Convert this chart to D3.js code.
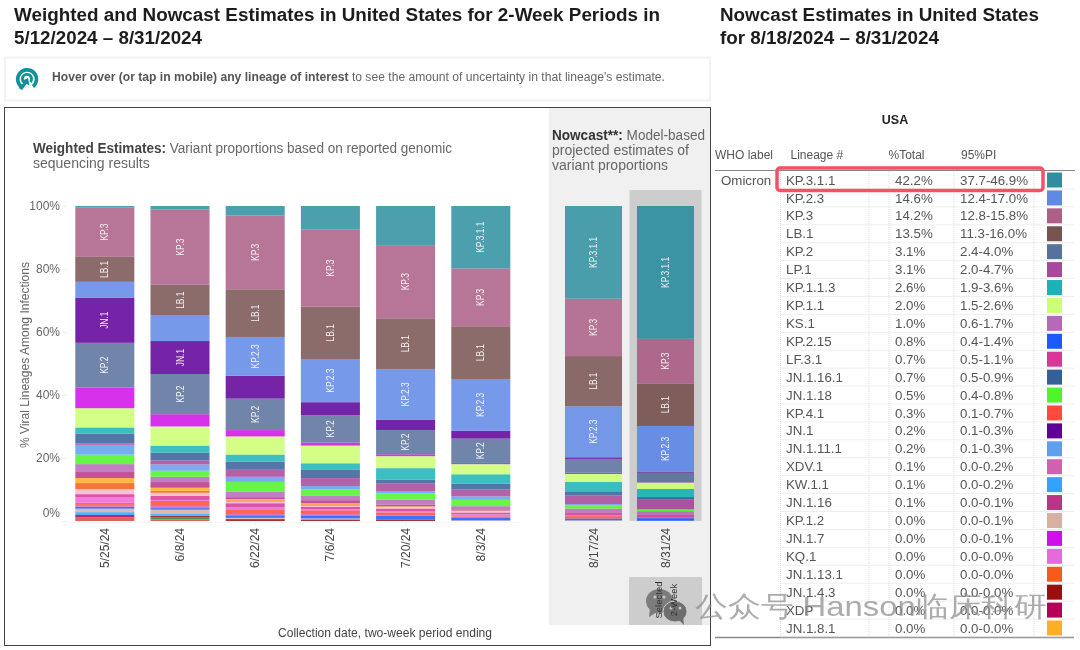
<!DOCTYPE html>
<html><head><meta charset="utf-8">
<script src="https://cdn.jsdelivr.net/npm/d3@7"></script>
<style>
html,body{margin:0;padding:0;background:#fff}
svg{display:block;filter:blur(0.4px)}
text{font-family:"Liberation Sans",Arial,sans-serif}
</style></head><body>
<svg id="c" width="1080" height="650"></svg>
<script>
const periods = ["5/25/24","6/8/24","6/22/24","7/6/24","7/20/24","8/3/24","8/17/24","8/31/24"];
const weightedPeriods = periods.slice(0,6);
const nowcastPeriods = periods.slice(6);
const yTicks = [0,0.2,0.4,0.6,0.8,1];

// lineage shares (%) per period, top of stack first
const kp311  = [0.4,1.1,3.0,7.5,12.4,19.8,29.4,42.2];
const kp3    = [15.7,24.0,23.2,24.4,23.2,18.3,18.2,14.2];
const lb1    = [7.9,9.8,15.0,16.6,16.1,16.7,15.9,13.5];
const kp23   = [5.0,8.1,12.2,13.7,16.0,16.4,16.2,14.6];
const jn1    = [14.3,10.5,7.2,4.1,3.3,2.5,0.5,0.2];
const kp2    = [14.2,12.8,9.9,8.7,7.7,7.7,4.4,3.1];
const jn17   = [6.5,3.9,2.0,0.95,0.6,0.4,0.4,0.1];
const kp11   = [6.1,6.1,5.7,5.6,3.8,3.2,2.5,2.0];
const kp113  = [1.9,2.2,2.2,2.1,3.6,3.0,3.0,2.6];
const jn1161 = [3.1,2.5,2.6,2.6,1.3,1.8,1.3,0.7];
const lp1    = [0.5,1.3,2.2,2.5,2.5,2.2,2.75,3.1];
const jn1111 = [3.1,2.0,1.6,1.0,0.6,1.1,0.4,0.2];
const jn118  = [3.0,1.9,3.0,2.0,2.0,2.0,1.0,0.5];
const ks1    = [2.5,1.7,1.8,1.5,1.6,1.2,1.2,1.0];
const jn116  = [1.9,1.8,0.6,1.0,0.5,0.2,0.2,0.1];
const jn181  = [1.6,1.0,0.4,0.3,0.3,0.1,0,0];
const jn1131 = [1.9,0.6,0.4,0.4,0,0,0,0];
const paleOther = [1.6,1.0,0.5,0.4,0.4,0.5,0,0];
const lf31   = [0.9,1.3,1.2,0.8,0.8,0.6,0.8,0.7];
const kq1    = [1.8,0.3,0.7,0.3,0.4,0.6,0.2,0];
const kp41   = [0.7,1.6,1.5,1.2,0.85,0.5,0.75,0.3];
const xdv1   = [0.6,0.7,0.4,0.4,0.2,0,0,0.1];
const kp215  = [0.6,0.5,0.8,1.0,1.2,0.8,0.6,0.8];
const kp12   = [1.1,1.2,0.4,0.3,0,0.2,0.2,0];
const kw11   = [0.9,0.7,0,0,0,0,0,0.1];
const jn143  = [0.3,0.6,0.6,0.5,0.5,0,0,0];
const xdp    = [0.4,0,0,0,0,0,0,0];
const greenOther = [0,0.6,0,0,0,0,0,0];
const redOther   = [1.2,0.5,0,0,0,0,0,0];

const seriesNames = ["KP.3.1.1","KP.3","LB.1","KP.2.3","JN.1","KP.2","JN.1.7","KP.1.1","KP.1.1.3","JN.1.16.1","LP.1","JN.1.11.1","JN.1.18","KS.1","JN.1.16","JN.1.8.1","JN.1.13.1","paleOther","LF.3.1","KQ.1","KP.4.1","XDV.1","KP.2.15","KP.1.2","KW.1.1","JN.1.4.3","XDP","greenOther","redOther"];
const seriesValues = [kp311,kp3,lb1,kp23,jn1,kp2,jn17,kp11,kp113,jn1161,lp1,jn1111,jn118,ks1,jn116,jn181,jn1131,paleOther,lf31,kq1,kp41,xdv1,kp215,kp12,kw11,jn143,xdp,greenOther,redOther];
const seriesColors = ["#2f8f9f","#ab6086","#785451","#6088e5","#5f0098","#58719b","#d010e8","#ccff73","#1db3b6","#355f99","#a8489a","#5f9ff0","#4df52a","#b56ab8","#ba3585","#ffae26","#f55c1c","#fbb6cc","#d83798","#e868de","#ff4a3c","#d160b0","#1a5bff","#d6b0a0","#33a3ff","#9c0d0d","#b5005a","#2a8530","#d04a42"];

const barLabels = [
 ["KP.3","LB.1","JN.1","KP.2"],
 ["KP.3","LB.1","JN.1","KP.2"],
 ["KP.3","LB.1","KP.2.3","KP.2"],
 ["KP.3","LB.1","KP.2.3","KP.2"],
 ["KP.3","LB.1","KP.2.3","KP.2"],
 ["KP.3.1.1","KP.3","LB.1","KP.2.3","KP.2"],
 ["KP.3.1.1","KP.3","LB.1","KP.2.3"],
 ["KP.3.1.1","KP.3","LB.1","KP.2.3"]
];

// nowcast table
const tableLineages = ["KP.3.1.1","KP.2.3","KP.3","LB.1","KP.2","LP.1","KP.1.1.3","KP.1.1","KS.1","KP.2.15","LF.3.1","JN.1.16.1","JN.1.18","KP.4.1","JN.1","JN.1.11.1","XDV.1","KW.1.1","JN.1.16","KP.1.2","JN.1.7","KQ.1","JN.1.13.1","JN.1.4.3","XDP","JN.1.8.1"];
const tableTotals = ["42.2%","14.6%","14.2%","13.5%","3.1%","3.1%","2.6%","2.0%","1.0%","0.8%","0.7%","0.7%","0.5%","0.3%","0.2%","0.2%","0.1%","0.1%","0.1%","0.0%","0.0%","0.0%","0.0%","0.0%","0.0%","0.0%"];
const tablePI = ["37.7-46.9%","12.4-17.0%","12.8-15.8%","11.3-16.0%","2.4-4.0%","2.0-4.7%","1.9-3.6%","1.5-2.6%","0.6-1.7%","0.4-1.4%","0.5-1.1%","0.5-0.9%","0.4-0.8%","0.1-0.7%","0.1-0.3%","0.1-0.3%","0.0-0.2%","0.0-0.2%","0.0-0.1%","0.0-0.1%","0.0-0.1%","0.0-0.0%","0.0-0.0%","0.0-0.0%","0.0-0.0%","0.0-0.0%"];

const svg = d3.select("#c");
const colorOf = d3.scaleOrdinal(seriesNames, seriesColors);

function txt(parent,x,y,s,o={}){
  const t = parent.append("text").attr("x",x).attr("y",y)
    .attr("font-size",o.size||12).attr("fill",o.fill||"#555")
    .attr("font-weight",o.bold?"bold":null)
    .attr("text-anchor",o.anchor||"start").text(s);
  if(o.len) t.attr("textLength",o.len).attr("lengthAdjust","spacingAndGlyphs");
  if(o.rot) t.attr("transform",`rotate(${o.rot} ${x} ${y})`);
  return t;
}

// titles
txt(svg,14,21,"Weighted and Nowcast Estimates in United States for 2-Week Periods in",{size:18,bold:true,fill:"#1c1c1c",len:646});
txt(svg,14,44,"5/12/2024 – 8/31/2024",{size:18,bold:true,fill:"#1c1c1c",len:188});
txt(svg,720,21,"Nowcast Estimates in United States",{size:18,bold:true,fill:"#1c1c1c",len:319});
txt(svg,720,44,"for 8/18/2024 – 8/31/2024",{size:18,bold:true,fill:"#1c1c1c",len:219});

// hover hint
svg.append("rect").attr("x",5).attr("y",57.5).attr("width",705).attr("height",43).attr("fill","#fff").attr("stroke","#f2f2f2").attr("stroke-width",2);
const icon = svg.append("g").attr("transform","translate(27,79)").attr("fill","none").attr("stroke","#12909c");
icon.append("path").attr("stroke-width",3.6).attr("d","M-5,8.2 A9.4,9.4 0 1 1 6,7.6");
icon.append("path").attr("stroke-width",2.8).attr("d","M-1,4.4 A4.6,4.6 0 1 1 3.4,3");
icon.append("path").attr("fill","#12909c").attr("stroke","none").attr("d","M1,-1 L2.5,6.5 L-0.5,5 L-5,11 L-8.5,9 L-3,3.5 L-5.5,2 Z");
const hint = svg.append("text").attr("x",52).attr("y",81).attr("font-size",12).attr("fill","#666").attr("textLength",613).attr("lengthAdjust","spacingAndGlyphs");
hint.append("tspan").attr("font-weight","bold").attr("fill","#555").text("Hover over (or tap in mobile) any lineage of interest");
hint.append("tspan").text(" to see the amount of uncertainty in that lineage's estimate.");

// chart frame
svg.append("rect").attr("x",549).attr("y",108).attr("width",161).attr("height",517).attr("fill","#f0f0f0");
svg.append("rect").attr("x",4.5).attr("y",107.5).attr("width",706).attr("height",538).attr("fill","none").attr("stroke","#444").attr("stroke-width",1);

const wt = svg.append("text").attr("x",33).attr("y",153).attr("font-size",14).attr("fill","#666").attr("textLength",419).attr("lengthAdjust","spacingAndGlyphs");
wt.append("tspan").attr("font-weight","bold").attr("fill","#444").text("Weighted Estimates:");
wt.append("tspan").text(" Variant proportions based on reported genomic");
txt(svg,33,168,"sequencing results",{size:14,fill:"#666"});
const nt = svg.append("text").attr("x",552).attr("y",140).attr("font-size",14).attr("fill","#666").attr("textLength",153).attr("lengthAdjust","spacingAndGlyphs");
nt.append("tspan").attr("font-weight","bold").attr("fill","#333").text("Nowcast**:");
nt.append("tspan").text(" Model-based");
txt(svg,552,155,"projected estimates of",{size:14,fill:"#666"});
txt(svg,552,170,"variant proportions",{size:14,fill:"#666"});

// selected period highlights
svg.append("rect").attr("x",629.5).attr("y",190).attr("width",72).attr("height",331).attr("fill","#cdcdcd");
svg.append("rect").attr("x",629).attr("y",577).attr("width",73).attr("height",48).attr("fill","#cdcdcd");

// scales
const y = d3.scaleLinear().domain([0,1]).range([521,206]);
const xW = d3.scaleBand().domain(weightedPeriods).range([67.2,518.4]).paddingInner(0.215).paddingOuter(0.1077);
const xN = d3.scaleBand().domain(nowcastPeriods).range([557.5,701.5]).paddingInner(0.208).paddingOuter(0.104);
const xOf = p => weightedPeriods.includes(p) ? xW(p) : xN(p);
const wOf = p => weightedPeriods.includes(p) ? xW.bandwidth() : xN.bandwidth();

// stack
const rows = periods.map((p,i)=>{
  const r = {period:p};
  seriesNames.forEach((n,j)=> r[n]=seriesValues[j][i]);
  return r;
});
const stack = d3.stack().keys(seriesNames.slice().reverse()).offset(d3.stackOffsetExpand);
const layers = stack(rows);

// y axis
const yAxis = d3.axisLeft(y).tickValues(yTicks).tickFormat(d3.format(".0%")).tickSize(5).tickPadding(2);
const ga = svg.append("g").attr("transform","translate(67,0)").call(yAxis);
ga.select(".domain").remove();
ga.selectAll("line").attr("stroke","#eee");
ga.selectAll("text").attr("font-size",12).attr("fill","#666").attr("font-family",'"Liberation Sans",Arial,sans-serif');
ga.selectAll(".tick").filter(d=>d===0).select("text").attr("dy","-0.35em");
txt(svg,29,355,"% Viral Lineages Among Infections",{size:12.5,rot:-90,anchor:"middle",fill:"#666",len:186});

// x axes
[xW,xN].forEach(sc=>{
  const ax = d3.axisBottom(sc).tickSize(3).tickPadding(4);
  const g = svg.append("g").attr("transform","translate(0,522)").call(ax);
  g.select(".domain").attr("stroke",sc===xW?"#f6f6f6":"none");
  g.selectAll("line").attr("stroke",sc===xW?"#f0f0f0":"none");
  g.selectAll("text").attr("font-size",12).attr("fill","#444")
    .attr("font-family",'"Liberation Sans",Arial,sans-serif')
    .attr("text-anchor","end").attr("dy",0)
    .attr("transform","translate(4,6) rotate(-90)").attr("x",0).attr("y",0);
});
txt(svg,385,637,"Collection date, two-week period ending",{size:12,anchor:"middle",fill:"#444",len:214});

// bars
const selected = "8/31/24";
const gLayers = svg.append("g").selectAll("g").data(layers).join("g").attr("fill",d=>colorOf(d.key));
gLayers.selectAll("rect").data(d=>d.filter(s=>s[1]>s[0]).map(s=>({s,key:d.key}))).join("rect")
  .attr("x",d=>xOf(d.s.data.period))
  .attr("width",d=>wOf(d.s.data.period))
  .attr("y",d=>y(d.s[1]))
  .attr("height",d=>y(d.s[0])-y(d.s[1]))
  .attr("fill-opacity",d=>d.s.data.period===selected?0.93:0.86);

// bar labels
const labelData = [];
layers.forEach(l=>l.forEach((s,i)=>{ if(barLabels[i].includes(l.key)) labelData.push({key:l.key,s,p:periods[i]}); }));
svg.append("g").selectAll("text").data(labelData).join("text")
  .attr("transform",d=>`translate(${xOf(d.p)+wOf(d.p)/2+3.5},${y((d.s[0]+d.s[1])/2)}) rotate(-90) scale(0.8,1)`)
  .attr("text-anchor","middle").attr("font-size",10.5).attr("fill","#f4f4f4").text(d=>d.key);

// selected box: chat icon under the text
const bub = svg.append("g");
bub.append("ellipse").attr("cx",659.5).attr("cy",601).attr("rx",13.5).attr("ry",12).attr("fill","#7c7c7c");
bub.append("path").attr("d","M650,608 L649,617 L657,612 Z").attr("fill","#7c7c7c");
bub.append("ellipse").attr("cx",675).attr("cy",611.5).attr("rx",12).attr("ry",10.5).attr("fill","#6e6e6e").attr("stroke","#cdcdcd");
bub.append("path").attr("d","M679,620 L684,625 L683,616 Z").attr("fill","#6e6e6e");
bub.selectAll("circle").data([[655,597],[664,597],[671,608],[680,608]]).join("circle")
  .attr("cx",d=>d[0]).attr("cy",d=>d[1]).attr("r",1.5).attr("fill","#c8c8c8");
txt(svg,662,600,"Selected",{size:9.5,rot:-90,anchor:"middle",fill:"#333"});
txt(svg,677,600,"2-Week",{size:9.5,rot:-90,anchor:"middle",fill:"#333"});

// table
const rowY = d3.scalePoint().domain(tableLineages).range([180,628]);
const t = svg.append("g");
txt(t,895,124,"USA",{size:12.5,bold:true,fill:"#222",anchor:"middle"});
txt(t,715,159,"WHO label",{size:12,fill:"#555"});
txt(t,790.5,159,"Lineage #",{size:12,fill:"#555"});
txt(t,888.5,159,"%Total",{size:12,fill:"#555"});
txt(t,961,159,"95%PI",{size:12,fill:"#555"});
t.append("line").attr("x1",715).attr("x2",1075).attr("y1",170.5).attr("y2",170.5).attr("stroke","#888");
t.append("line").attr("x1",715).attr("x2",1074).attr("y1",637.5).attr("y2",637.5).attr("stroke","#888").attr("stroke-width",1.5);
const rh = rowY.step();
t.selectAll("line.h").data(tableLineages).join("line").attr("class","h")
  .attr("x1",780.5).attr("x2",1074)
  .attr("y1",d=>rowY(d)+rh/2).attr("y2",d=>rowY(d)+rh/2)
  .attr("stroke","#ddd").attr("stroke-dasharray","1 1");
t.selectAll("line.v").data([780.5,869,889,954,1034]).join("line").attr("class","v")
  .attr("x1",d=>d).attr("x2",d=>d).attr("y1",171).attr("y2",637)
  .attr("stroke","#ddd").attr("stroke-dasharray","1 1");
txt(t,721,185,"Omicron",{size:13.3,fill:"#555"});
tableLineages.forEach((n,i)=>{
  const yy = rowY(n);
  txt(t,786,yy+4.6,n,{size:13.3,fill:"#555"});
  txt(t,895,yy+4.6,tableTotals[i],{size:13.3,fill:"#555"});
  txt(t,960,yy+4.6,tablePI[i],{size:13.3,fill:"#555"});
});
t.selectAll("rect.sw").data(tableLineages).join("rect").attr("class","sw")
  .attr("x",1047).attr("width",15).attr("y",d=>rowY(d)-7.5).attr("height",15)
  .attr("fill",d=>colorOf(d));

// highlight box
svg.append("rect").attr("x",777).attr("y",168).attr("width",266).attr("height",22.5).attr("rx",3)
  .attr("fill","none").attr("stroke","#f65066").attr("stroke-width",3.5);

// watermark
txt(svg,695,616,"公众号 Hanson临床科研",{size:28,fill:"#8a8a8a",len:352}).attr("font-family",'"Noto Sans CJK SC",sans-serif').attr("fill-opacity",0.72);
</script>
</body></html>
